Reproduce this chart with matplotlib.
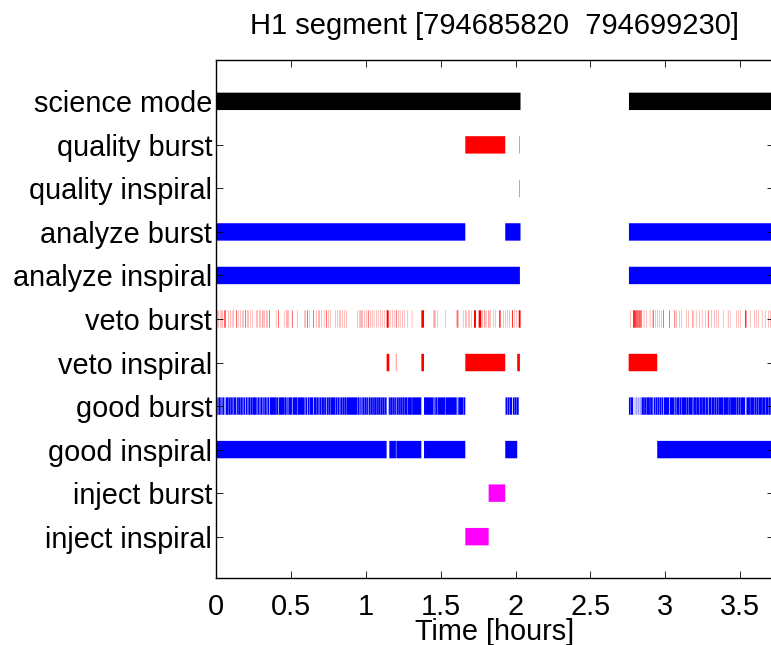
import numpy as np
import matplotlib
matplotlib.use("Agg")
import matplotlib.pyplot as plt
from matplotlib.ticker import FuncFormatter

# segment lists, times in hours after GPS 794685820
gps_start = 794685820
gps_end = 794699230

science = [(0.0, 2.033), (2.758, 3.725)]
quality_burst = [(1.664, 1.931), (2.025, 2.028)]
quality_inspiral = [(2.025, 2.028)]
analyze_burst = [(0.0, 1.664), (1.931, 2.033), (2.758, 3.725)]
analyze_inspiral = [(0.0, 2.029), (2.758, 3.725)]
veto_inspiral = [(1.138, 1.156), (1.200, 1.203), (1.370, 1.388),
                 (1.664, 1.931), (2.011, 2.029), (2.756, 2.947)]
inject_burst = [(1.820, 1.931)]
inject_inspiral = [(1.664, 1.820)]

# veto burst: start (hours) and duration (seconds)
veto_burst_start = [
    0.006, 0.015, 0.024, 0.033, 0.042, 0.051, 0.060, 0.078, 0.091, 0.104,
    0.113, 0.131, 0.144, 0.158, 0.171, 0.180, 0.193, 0.207, 0.216, 0.229,
    0.243, 0.265, 0.273, 0.287, 0.296, 0.309, 0.323, 0.332, 0.340, 0.354,
    0.398, 0.412, 0.457, 0.470, 0.483, 0.505, 0.541, 0.586, 0.594, 0.608,
    0.621, 0.648, 0.666, 0.684, 0.701, 0.719, 0.733, 0.751, 0.764, 0.795,
    0.808, 0.822, 0.831, 0.844, 0.858, 0.871, 0.942, 0.955, 0.965, 0.978,
    0.991, 1.000, 1.013, 1.027, 1.040, 1.053, 1.067, 1.080, 1.098, 1.112,
    1.125, 1.138, 1.160, 1.174, 1.187, 1.200, 1.214, 1.227, 1.241, 1.259,
    1.276, 1.307, 1.370, 1.450, 1.459, 1.477, 1.530, 1.602, 1.610, 1.620,
    1.650, 1.664, 1.673, 1.682, 1.690, 1.704, 1.722, 1.753, 1.780, 1.793,
    1.807, 1.820, 1.834, 1.851, 1.864, 1.891, 1.918, 1.931, 1.945, 1.958,
    1.976, 1.994, 2.007, 2.021,
    2.769, 2.785, 2.792, 2.800, 2.808, 2.815, 2.823, 2.830, 2.838, 2.858,
    2.876, 2.898, 2.912, 2.920, 2.934, 2.947, 2.961, 2.974, 2.987, 3.027,
    3.063, 3.077, 3.094, 3.108, 3.144, 3.157, 3.184, 3.206, 3.228, 3.246,
    3.268, 3.286, 3.308, 3.331, 3.344, 3.358, 3.388, 3.420, 3.433, 3.478,
    3.491, 3.505, 3.535, 3.567, 3.598, 3.612, 3.625, 3.647, 3.669, 3.692,
    3.701,
]
veto_burst_dur = [
    6, 6, 6, 6, 6, 14, 14, 6, 6, 6,
    6, 14, 6, 6, 6, 6, 14, 6, 6, 6,
    6, 6, 6, 6, 6, 14, 6, 6, 6, 14,
    6, 14, 6, 14, 6, 14, 6, 6, 6, 14,
    6, 14, 6, 14, 6, 6, 14, 6, 6, 6,
    6, 6, 6, 6, 6, 6, 6, 6, 14, 6,
    6, 6, 14, 6, 6, 6, 6, 6, 6, 6,
    6, 50, 6, 6, 6, 14, 6, 6, 6, 6,
    6, 6, 65, 6, 14, 6, 6, 6, 14, 6,
    6, 6, 6, 6, 6, 6, 48, 65, 6, 14,
    6, 14, 6, 6, 6, 32, 6, 6, 6, 6,
    20, 6, 6, 45,
    6, 20, 20, 20, 20, 20, 20, 20, 14, 6,
    6, 6, 6, 14, 6, 6, 6, 6, 14, 14,
    14, 6, 6, 6, 6, 6, 14, 6, 6, 6,
    6, 14, 6, 6, 6, 6, 6, 6, 6, 6,
    6, 6, 30, 6, 6, 6, 6, 6, 6, 6,
    6,
]
veto_burst = [(s, s + d / 3600.0) for s, d in zip(veto_burst_start, veto_burst_dur)]


def subtract(segs, cuts):
    out = []
    for a, b in segs:
        pieces = [(a, b)]
        for c, d in cuts:
            new = []
            for p, q in pieces:
                if d <= p or c >= q:
                    new.append((p, q))
                    continue
                if c > p:
                    new.append((p, c))
                if d < q:
                    new.append((d, q))
            pieces = new
        out.extend(pieces)
    return out


good_burst = subtract(analyze_burst, veto_burst)
good_inspiral = subtract(analyze_inspiral, veto_inspiral)

rows = [
    ("science mode", science, "#000000"),
    ("quality burst", quality_burst, "#FF0000"),
    ("quality inspiral", quality_inspiral, "#FF0000"),
    ("analyze burst", analyze_burst, "#0000FF"),
    ("analyze inspiral", analyze_inspiral, "#0000FF"),
    ("veto burst", veto_burst, "#FF0000"),
    ("veto inspiral", veto_inspiral, "#FF0000"),
    ("good burst", good_burst, "#0000FF"),
    ("good inspiral", good_inspiral, "#0000FF"),
    ("inject burst", inject_burst, "#FF00FF"),
    ("inject inspiral", inject_inspiral, "#FF00FF"),
]

plt.rcParams['font.family'] = ['Liberation Sans', 'DejaVu Sans']

fig = plt.figure(figsize=(7.71, 6.45), dpi=100)
ax = fig.add_axes([216.4 / 771, 1 - 578 / 645, (773.6 - 216.4) / 771, (578 - 60) / 645])

n = len(rows)
ypos = []
for i, (name, segs, col) in enumerate(rows):
    y = n - i
    ypos.append(y)
    xr = [(a, b - a) for a, b in segs]
    bars = ax.broken_barh(xr, (y - 0.2, 0.4), facecolors=col,
                          edgecolors="none", linewidth=0, antialiased=True)
    bars.set_snap(False)

ax.set_xlim(0, (gps_end - gps_start) / 3600.0)
ax.set_ylim(0.05, n + 0.95)
ax.set_yticks(ypos)
ax.set_yticklabels([r[0] for r in rows])
ax.set_xticks(np.arange(0, 3.6, 0.5))
ax.xaxis.set_major_formatter(FuncFormatter(lambda v, p: "%g" % v))
ax.tick_params(direction="in", top=True, right=True, length=5, width=0.6,
               labelsize=20.8)
ax.tick_params(axis="x", pad=11)
ax.tick_params(axis="y", pad=3)
for s in ax.spines.values():
    s.set_linewidth(1.0)
ax.set_xlabel("Time [hours]", fontsize=20.8, labelpad=-2.5)
ax.set_title("H1 segment [%d  %d]" % (gps_start, gps_end), fontsize=21, pad=19)

fig.savefig("out.png", dpi=100)
